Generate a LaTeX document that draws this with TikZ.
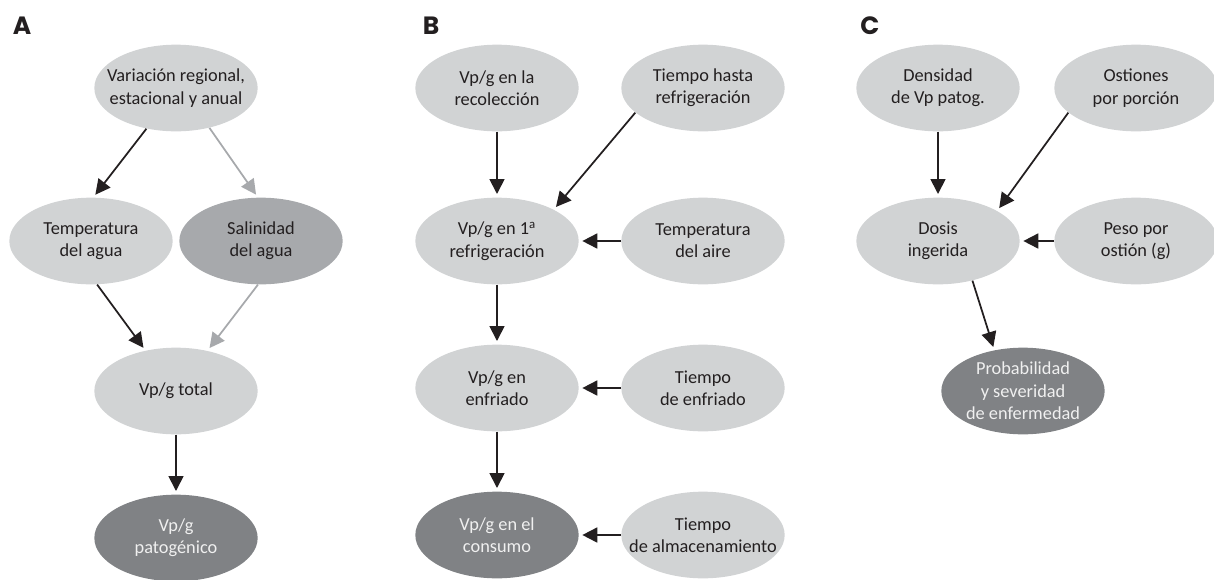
\documentclass[tikz,border=0pt]{standalone}
\usepackage{fontspec}
\setmainfont{Carlito}
\newfontfamily\panelfont{Poppins}
\usetikzlibrary{shapes.geometric,arrows.meta}
\definecolor{lightfill}{HTML}{D1D3D4}
\definecolor{midfill}{HTML}{A7A9AC}
\definecolor{darkfill}{HTML}{808285}
\definecolor{inkcol}{HTML}{231F20}

\begin{document}
\begin{tikzpicture}[x=0.6pt,y=-0.6pt,
		factor/.style={ellipse,fill=lightfill,text=inkcol,minimum width=98pt,minimum height=52pt,inner xsep=-10pt,inner ysep=0pt,align=center,font=\fontsize{11}{13.4}\selectfont},
		salt/.style={factor,fill=midfill},
		result/.style={factor,fill=darkfill,text=white!94!black},
		lnk/.style={-{Triangle[length=9pt,width=9pt]},line width=1.05pt,inkcol,shorten >=2pt},
		faint/.style={lnk,midfill},
		panel/.style={font=\panelfont\bfseries\fontsize{15}{17}\selectfont,text=inkcol}]
		\useasboundingbox (0,0) rectangle (1214,579);
		\node[panel] (labA) at (22,26) {A};
		\node[panel] (labB) at (431,26) {B};
		\node[panel] (labC) at (870,26) {C};
		\node[factor] (vra) at (176,88) {Variación regional,\\estacional y anual};
		\node[factor] (tagua) at (91,241) {Temperatura\\del agua};
		\node[salt] (sagua) at (261,241) {Salinidad\\del agua};
		\node[factor] (vptot) at (176,391) {Vp/g total};
		\node[result] (vppat) at (176,538) {Vp/g\\patogénico};
		\draw[lnk] (vra.234) -- (tagua.87);
		\draw[faint] (vra.310) -- (sagua.94);
		\draw[lnk] (tagua.278) -- (vptot.127);
		\draw[faint] (sagua.266) -- (vptot.52);
		\draw[lnk] (vptot) -- (vppat);
		\node[factor] (vprec) at (497,88) {Vp/g en la\\recolección};
		\node[factor] (thasta) at (703,88) {Tiempo hasta\\refrigeración};
		\node[factor] (vpref) at (497,241) {Vp/g en 1\textsuperscript{a}\\refrigeración};
		\node[factor] (taire) at (703,241) {Temperatura\\del aire};
		\node[factor] (vpenf) at (497,388) {Vp/g en\\enfriado};
		\node[factor] (tenf) at (703,388) {Tiempo\\de enfriado};
		\node[result] (vpcons) at (497,535) {Vp/g en el\\consumo};
		\node[factor] (talm) at (703,535) {Tiempo\\de almacenamiento};
		\draw[lnk] (vprec) -- (vpref);
		\draw[lnk] (thasta.200) -- (vpref.29);
		\draw[lnk] (taire) -- (vpref);
		\draw[lnk] (vpref) -- (vpenf);
		\draw[lnk] (tenf) -- (vpenf);
		\draw[lnk] (vpenf) -- (vpcons);
		\draw[lnk] (talm) -- (vpcons);
		\node[factor] (dens) at (938,88) {Densidad\\de Vp patog.};
		\node[factor] (ostp) at (1136,88) {Ostiones\\por porción};
		\node[factor] (dosis) at (938,241) {Dosis\\ingerida};
		\node[factor] (peso) at (1136,241) {Peso por\\ostión (g)};
		\node[result] (prob) at (1023,391) {Probabilidad\\y severidad\\de enfermedad};
		\draw[lnk] (dens) -- (dosis);
		\draw[lnk] (ostp.200) -- (dosis.27);
		\draw[lnk] (peso) -- (dosis);
		\draw[lnk] (dosis.311) -- (prob.125);
	\end{tikzpicture}
\end{document}
